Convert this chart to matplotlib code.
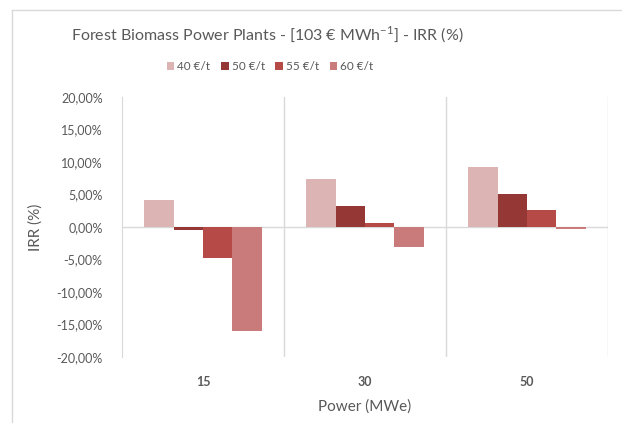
import matplotlib
matplotlib.use("Agg")
import matplotlib.pyplot as plt
from matplotlib.patches import Patch
from matplotlib.lines import Line2D
import numpy as np

categories = ["15", "30", "50"]
series_names = ["40 €/t", "50 €/t", "55 €/t", "60 €/t"]
irr_40 = [4.2, 7.4, 9.2]
irr_50 = [-0.5, 3.2, 5.1]
irr_55 = [-4.8, 0.6, 2.6]
irr_60 = [-16.0, -3.1, -0.3]
y_ticks = [-20, -15, -10, -5, 0, 5, 10, 15, 20]

colors = ["#DDB4B4", "#953735", "#B64A47", "#C97A7A"]
series = [irr_40, irr_50, irr_55, irr_60]

plt.rcParams['font.family'] = ['Lato', 'DejaVu Sans']
txt = "#595959"
grid = "#D9D9D9"

W, H = 622, 423
fig = plt.figure(figsize=(W/100, H/100), dpi=100)
ax = fig.add_axes([122/W, 1-357/H, (608-122)/W, (357-97)/H])

x = np.arange(len(categories))
bw = 0.182
for i, (vals, c) in enumerate(zip(series, colors)):
    ax.bar(x + (i-1.5)*bw, vals, bw, color=c, zorder=3)

ax.set_xlim(-0.5, len(categories)-0.5)
ax.set_ylim(-20, 20)
ax.set_yticks(y_ticks)
ax.set_yticklabels([f"{v:.2f}%".replace(".", ",") for v in y_ticks])
ax.set_xticks(x)
ax.set_xticklabels(categories, fontweight="bold")
ax.tick_params(axis="both", length=0, colors=txt, labelsize=9)
ax.tick_params(axis="y", pad=14)
ax.tick_params(axis="x", pad=14)
for s in ["top", "bottom", "right"]:
    ax.spines[s].set_visible(False)
ax.spines["left"].set_color(grid)
ax.axhline(0, color=grid, lw=1, zorder=2)
for b in [0.5, 1.5, 2.5]:
    ax.axvline(b, color=grid, lw=1, zorder=1)

ax.set_ylabel("IRR (%)", color=txt, fontsize=11, labelpad=10)
ax.set_xlabel("Power (MWe)", color=txt, fontsize=11, labelpad=8)

fig.text(267/W, 1-35/H, "Forest Biomass Power Plants - [103 € MWh$^{\\mathregular{-1}}$] - IRR (%)",
         ha="center", va="center", color=txt, fontsize=11.5)
handles = [Patch(facecolor=c, edgecolor="none") for c in colors]
fig.legend(handles, series_names, loc="center", bbox_to_anchor=(270/W, 1-67/H),
           ncol=4, frameon=False, fontsize=8.5, handlelength=0.65, handleheight=0.65,
           handletextpad=0.25, columnspacing=0.9, labelcolor=txt)

# outer chart border (top & left visible in screenshot)
fig.add_artist(Line2D([12/W, 1], [1-10/H, 1-10/H], transform=fig.transFigure, color=grid, lw=1))
fig.add_artist(Line2D([12/W, 12/W], [0, 1-10/H], transform=fig.transFigure, color=grid, lw=1))

fig.savefig("out.png", dpi=100)
